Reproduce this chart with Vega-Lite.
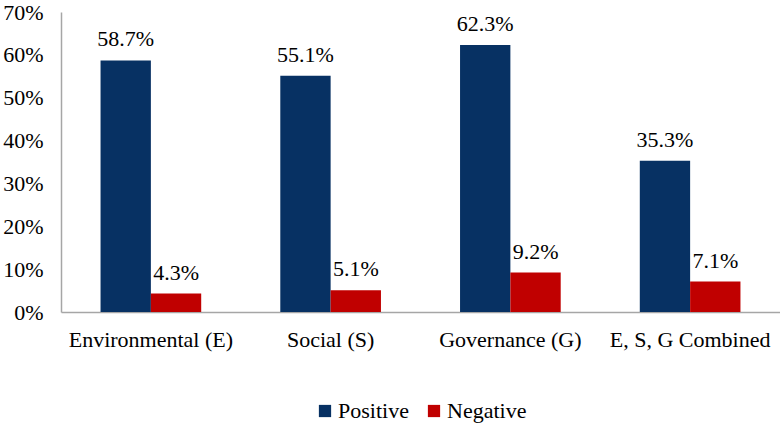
{
  "$schema": "https://vega.github.io/schema/vega-lite/v6.json",
  "width": 780,
  "height": 428,
  "autosize": {"type": "fit", "contains": "padding"},
  "padding": {"left": 2, "top": 1, "right": 0, "bottom": 6},
  "background": "white",
  "config": {
    "view": {"stroke": null},
    "font": "Liberation Serif",
    "text": {"font": "Liberation Serif"},
    "axis": {"labelFont": "Liberation Serif", "labelColor": "black", "labelFontSize": 22, "grid": false, "ticks": false, "domainColor": "#a6a6a6", "domainWidth": 1.5, "title": null},
    "legend": {"labelFont": "Liberation Serif", "labelFontSize": 22, "labelColor": "black", "layout": {"bottom": {"anchor": "middle"}}}
  },
  "data": {
    "values": [
      {"category": "Environmental (E)", "type": "Positive", "share": 0.587},
      {"category": "Environmental (E)", "type": "Negative", "share": 0.043},
      {"category": "Social (S)", "type": "Positive", "share": 0.551},
      {"category": "Social (S)", "type": "Negative", "share": 0.051},
      {"category": "Governance (G)", "type": "Positive", "share": 0.623},
      {"category": "Governance (G)", "type": "Negative", "share": 0.092},
      {"category": "E, S, G Combined", "type": "Positive", "share": 0.353},
      {"category": "E, S, G Combined", "type": "Negative", "share": 0.071}
    ]
  },
  "encoding": {
    "x": {
      "field": "category", "type": "nominal", "sort": null,
      "scale": {"paddingInner": 0.44, "paddingOuter": 0.22},
      "axis": {"labelAngle": 0, "labelPadding": 17}
    },
    "xOffset": {"field": "type", "type": "nominal", "sort": ["Positive", "Negative"]},
    "y": {
      "field": "share", "type": "quantitative",
      "scale": {"domain": [0, 0.7]},
      "axis": {"format": ".0%", "values": [0, 0.1, 0.2, 0.3, 0.4, 0.5, 0.6, 0.7], "labelPadding": 18}
    }
  },
  "layer": [
    {
      "mark": {"type": "bar"},
      "encoding": {
        "color": {
          "field": "type", "type": "nominal",
          "sort": ["Positive", "Negative"],
          "scale": {"domain": ["Positive", "Negative"], "range": ["#073163", "#c00000"]},
          "legend": {"orient": "bottom", "direction": "horizontal", "title": null, "symbolType": "square", "symbolSize": 150, "symbolStrokeWidth": 0, "columnPadding": 14, "labelOffset": 2, "offset": 50}
        }
      }
    },
    {
      "mark": {"type": "text", "baseline": "bottom", "dy": -9, "fontSize": 22, "color": "black", "font": "Liberation Serif"},
      "encoding": {
        "text": {"field": "share", "type": "quantitative", "format": ".1%"}
      }
    }
  ]
}
